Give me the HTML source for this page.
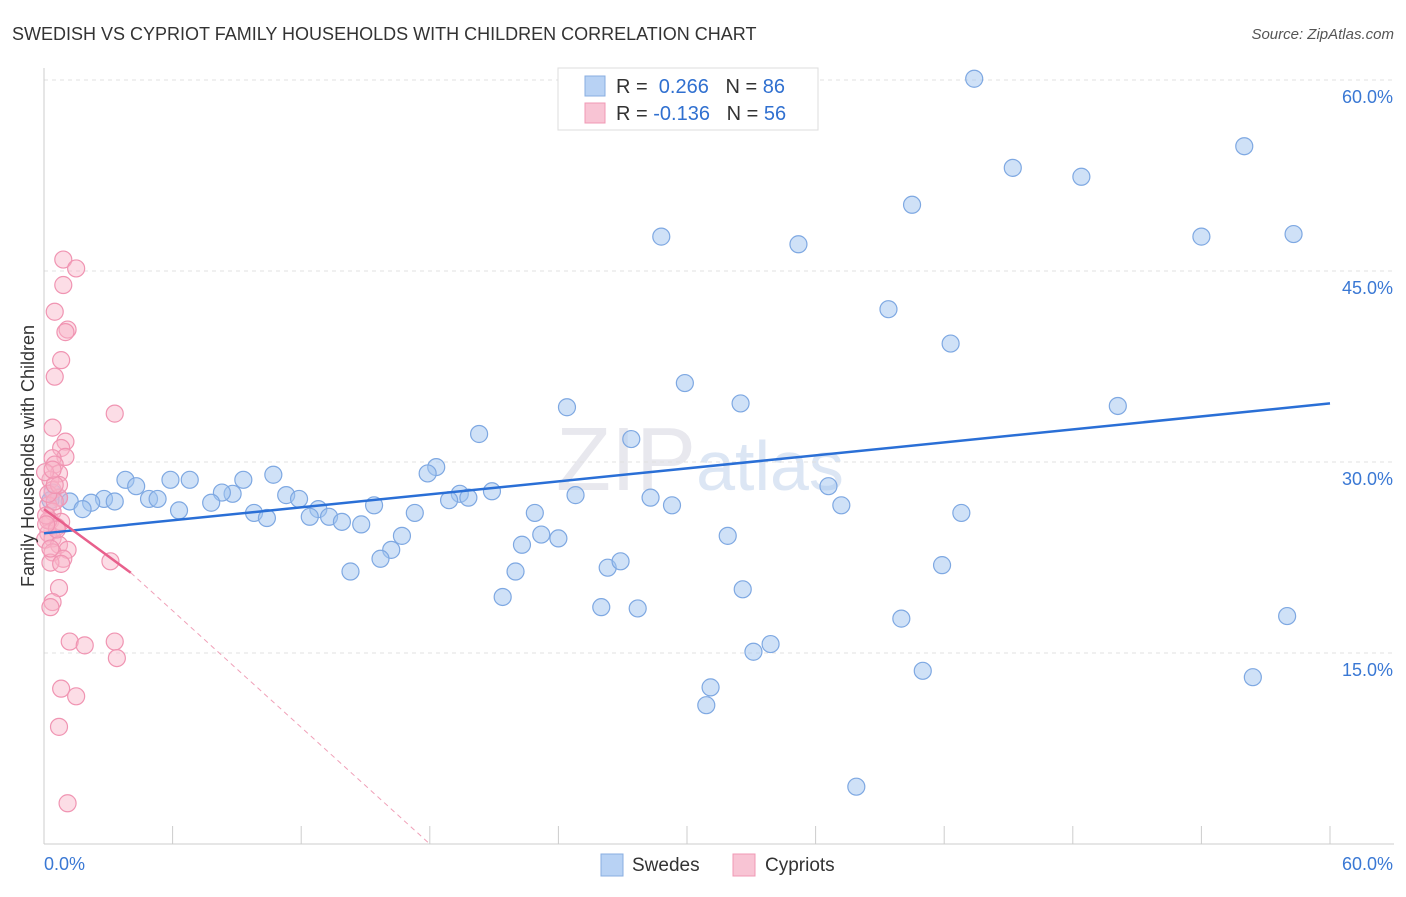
<!DOCTYPE html>
<html><head><meta charset="utf-8"><style>
body{margin:0;background:#fff;font-family:"Liberation Sans",sans-serif}
svg text{font-family:"Liberation Sans",sans-serif}
</style></head><body>
<svg id="chart" width="1406" height="892">
<text x="12" y="40" font-size="18" fill="#333">SWEDISH VS CYPRIOT FAMILY HOUSEHOLDS WITH CHILDREN CORRELATION CHART</text>
<text x="1394" y="39" font-size="15" fill="#555" font-style="italic" text-anchor="end">Source: ZipAtlas.com</text>
<text x="700" y="490" font-size="90" fill="#e8e8ee" text-anchor="middle" font-family="Liberation Serif">ZIP<tspan fill="#dce6f4" font-family="Liberation Sans" font-size="70">atlas</tspan></text>
<g id="grid"></g><g id="axes"></g><g id="pts"></g><g id="lines"></g>
<text transform="translate(34,456) rotate(-90)" font-size="18" fill="#333" text-anchor="middle">Family Households with Children</text>
<g>
<rect x="558" y="68" width="260" height="62" fill="#fff" stroke="#ddd"/>
<rect x="585" y="76" width="20" height="20" fill="#b8d2f4" stroke="#88aee0"/>
<text x="616" y="93" font-size="20" fill="#333">R = <tspan fill="#3070d0">&#160;0.266</tspan>&#160;&#160;&#160;N = <tspan fill="#3070d0">86</tspan></text>
<rect x="585" y="103" width="20" height="20" fill="#f8c4d4" stroke="#f098b4"/>
<text x="616" y="120" font-size="20" fill="#333">R = <tspan fill="#3070d0">-0.136</tspan>&#160;&#160;&#160;N = <tspan fill="#3070d0">56</tspan></text>
</g>
<g>
<rect x="601" y="854" width="22" height="22" fill="#b8d2f4" stroke="#88aee0"/>
<text x="632" y="871" font-size="19" fill="#333">Swedes</text>
<rect x="733" y="854" width="22" height="22" fill="#f8c4d4" stroke="#f098b4"/>
<text x="765" y="871" font-size="19" fill="#333">Cypriots</text>
</g>
</svg>
<script>
const yTicks=[15,30,45,60];
const xTickLabels=["0.0%","60.0%"];
const blueX=[43.4,56.0,45.2,48.4,40.5,28.8,35.2,54.0,58.3,39.4,42.3,29.9,32.5,24.4,50.1,20.3,27.4,18.3,17.9,10.7,19.4,24.8,8.8,3.8,4.3,5.9,6.8,9.3,8.3,4.9,5.3,6.3,7.8,2.8,2.2,3.3,0.4,0.7,1.2,1.8,0.3,11.3,11.9,12.8,15.4,18.9,19.8,20.9,22.9,28.3,29.3,36.6,37.2,9.8,10.4,12.4,13.3,13.9,14.8,17.3,16.7,16.2,15.7,14.3,22.3,23.2,24.0,22.0,21.4,26.0,27.7,26.3,26.9,31.9,32.6,41.9,42.8,40.0,58.0,33.9,33.1,31.1,30.9,41.0,56.4,37.9];
const blueY=[60.1,54.8,53.1,52.4,50.2,47.7,47.1,47.7,47.9,42.0,39.3,36.2,34.6,34.3,34.4,32.2,31.8,29.6,29.1,29.0,27.5,27.4,27.5,28.6,28.1,28.6,28.6,28.6,27.6,27.1,27.1,26.2,26.8,27.1,26.8,26.9,27.6,27.2,26.9,26.3,27.0,27.4,27.1,26.3,26.6,27.0,27.2,27.7,26.0,27.2,26.6,28.1,26.6,26.0,25.6,25.7,25.7,25.3,25.1,26.0,24.2,23.1,22.4,21.4,23.5,24.3,24.0,21.4,19.4,18.6,18.5,21.7,22.2,24.2,20.0,21.9,26.0,17.7,17.9,15.7,15.1,12.3,10.9,13.6,13.1,4.5];
const pinkX=[0.9,1.5,0.9,0.5,1.1,1.0,0.8,0.5,3.3,0.4,1.0,0.8,1.0,0.4,0.5,0.7,0.3,0.4,0.7,0.2,0.4,0.3,0.8,0.6,0.2,0.4,0.05,0.7,1.1,0.4,0.9,0.3,3.1,0.8,0.7,0.4,0.3,1.2,1.9,3.3,3.4,0.8,1.5,0.7,1.1,0.2,0.5,0.2,0.7,0.05,0.3,0.6,0.1,0.5,0.1,0.4];
const pinkY=[45.9,45.2,43.9,41.8,40.4,40.2,38.0,36.7,33.8,32.7,31.6,31.1,30.4,30.3,29.8,29.1,28.6,27.8,27.2,26.6,26.1,25.4,25.3,24.9,24.4,24.0,23.9,23.5,23.1,22.9,22.4,22.1,22.2,22.0,20.1,19.0,18.6,15.9,15.6,15.9,14.6,12.2,11.6,9.2,3.2,25.4,26.9,27.5,28.2,29.2,23.2,24.7,25.8,28.2,25.1,29.4];
const X=v=>44+v*(1286/60), Y=v=>844-v*(191/15);
const NS="http://www.w3.org/2000/svg";
function mk(p,t,a){const e=document.createElementNS(NS,t);for(const k in a)e.setAttribute(k,a[k]);p.appendChild(e);return e;}
const grid=document.getElementById('grid'),axes=document.getElementById('axes'),pts=document.getElementById('pts'),lines=document.getElementById('lines');
yTicks.forEach(t=>{
 const l=mk(grid,'line',{x1:44,x2:1394,y1:Y(t),y2:Y(t),stroke:'#e0e0e0','stroke-dasharray':'4,4'});
 
 
 const tx=mk(axes,'text',{x:1393,y:Y(t)+23,'font-size':18,fill:'#3a78d4','text-anchor':'end'});tx.textContent=t.toFixed(1)+'%';
 
 
});
mk(axes,'line',{x1:44,x2:44,y1:68,y2:844,stroke:'#ccc'});
mk(axes,'line',{x1:44,x2:1394,y1:844,y2:844,stroke:'#ccc'});
for(let i=0;i<=10;i++){const x=X(i*6);const tk=mk(axes,'line',{x1:x,x2:x,y1:826,y2:844,stroke:'#ccc'});
 
 }
const xl0=mk(axes,'text',{x:44,y:870,'font-size':18,fill:'#3a78d4'});xl0.textContent=xTickLabels[0];


const xl1=mk(axes,'text',{x:1393,y:870,'font-size':18,fill:'#3a78d4','text-anchor':'end'});xl1.textContent=xTickLabels[1];


blueX.forEach((v,i)=>{const c=mk(pts,'circle',{cx:X(v),cy:Y(blueY[i]),r:8.5,fill:'rgba(160,196,240,0.5)',stroke:'#7ea8e2','stroke-width':1.2});
 
 });
pinkX.forEach((v,i)=>{const c=mk(pts,'circle',{cx:X(v),cy:Y(pinkY[i]),r:8.5,fill:'rgba(248,180,200,0.45)',stroke:'#f094b2','stroke-width':1.2});
 
 });
const bl=mk(lines,'line',{x1:X(0),y1:Y(24.4),x2:X(60),y2:Y(34.6),stroke:'#2a6fd6','stroke-width':2.5});


const pl=mk(lines,'line',{x1:X(0),y1:Y(26.3),x2:X(4.05),y2:Y(21.3),stroke:'#e8608c','stroke-width':2.5});


const pd=mk(lines,'line',{x1:X(4.05),y1:Y(21.3),x2:X(18.0),y2:Y(0),stroke:'#f0a0b8','stroke-width':1,'stroke-dasharray':'5,4'});


</script>
</body></html>
